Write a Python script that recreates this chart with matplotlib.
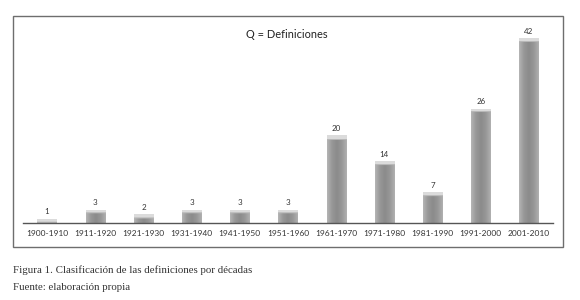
import numpy as np
import matplotlib
matplotlib.use("Agg")
import matplotlib.pyplot as plt
from matplotlib.patches import Rectangle
from matplotlib.colors import LinearSegmentedColormap

# data
decades = ["1900-1910", "1911-1920", "1921-1930", "1931-1940", "1941-1950",
           "1951-1960", "1961-1970", "1971-1980", "1981-1990", "1991-2000",
           "2001-2010"]
counts = [1, 3, 2, 3, 3, 3, 20, 14, 7, 26, 42]

title = "Q = Definiciones"
caption = "Figura 1. Clasificación de las definiciones por décadas"
source = "Fuente: elaboración propia"

SANS = ["Lato", "DejaVu Sans"]
SERIF = ["Liberation Serif", "DejaVu Serif"]

fig = plt.figure(figsize=(5.8, 3.0), dpi=100, facecolor="white")

# outer frame
fig.patches.append(Rectangle((13/580, 1-247/300), 550/580, 231/300,
                             transform=fig.transFigure, fill=False,
                             edgecolor="#6e6e6e", linewidth=1.0))

ax = fig.add_axes([23/580, 77/300, 530/580, 193/300])
ax.set_xlim(-0.5, len(decades) - 0.5)
ax.set_ylim(0, 193/4.4)
ax.patch.set_alpha(0)

x = np.arange(len(decades))
bars = ax.bar(x, counts, width=0.4, color="none", edgecolor="none")

# shaded fill: horizontal gradient, light cap at top
body = LinearSegmentedColormap.from_list(
    "body", ["#b4b4b4", "#979797", "#8b8b8b", "#979797", "#b0b0b0"])
cols = np.linspace(0, 1, 40)
cap_units = 3.5 / 4.4
for b, v in zip(bars, counts):
    x0 = b.get_x()
    w = b.get_width()
    rows = max(int(v * 4.4), 4)
    rgb = body(cols)[None, :, :3].repeat(rows, axis=0)
    ncap = int(round(cap_units / v * rows)) if v > 0 else 0
    ncap = min(max(ncap, 2), rows)
    rgb[:ncap] = np.array([0.86, 0.86, 0.86])
    if ncap < rows:
        rgb[ncap] = np.array([0.72, 0.72, 0.72])
    im = ax.imshow(rgb, extent=(x0, x0 + w, 0, v), aspect="auto",
                   interpolation="bilinear", zorder=2)
    im.set_clip_path(b)
    ax.annotate(str(v), (b.get_x() + w/2, v), xytext=(0, 2.5),
                textcoords="offset points", ha="center", va="bottom",
                fontsize=5.8, family=SANS, color="#333333")

for s in ["top", "left", "right"]:
    ax.spines[s].set_visible(False)
ax.spines["bottom"].set_color("#555555")
ax.spines["bottom"].set_linewidth(1.0)
ax.set_yticks([])
ax.set_xticks(x)
ax.set_xticklabels(decades, fontsize=6.0, family=SANS, color="#333333")
ax.tick_params(axis="x", length=0, pad=5)

fig.text(287/580, 1-35/300, title, ha="center", va="center",
         fontsize=7.9, family=SANS, color="#222222")
fig.text(13/580, 1-270/300, caption, ha="left", va="center",
         fontsize=7.8, family=SERIF, color="#333333")
fig.text(13/580, 1-287/300, source, ha="left", va="center",
         fontsize=7.8, family=SERIF, color="#333333")

fig.savefig("out.png", dpi=100, facecolor="white")
